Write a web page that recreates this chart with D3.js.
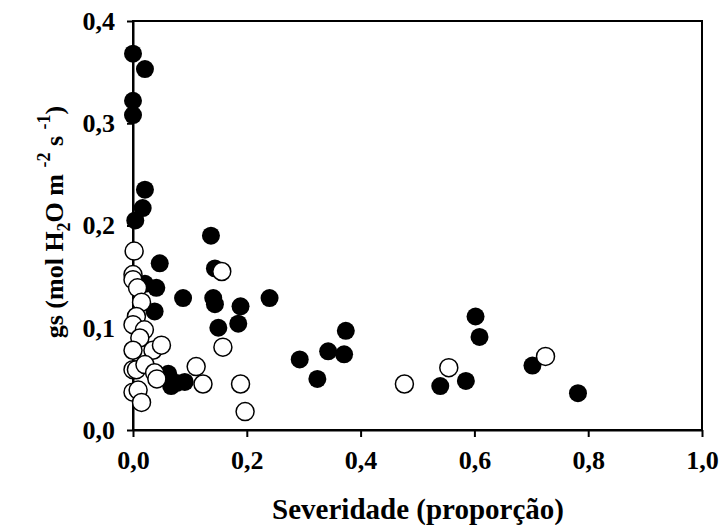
<!DOCTYPE html>
<html>
<head>
<meta charset="utf-8">
<script src="https://cdn.jsdelivr.net/npm/d3@7"></script>
<style>
  body { margin: 0; background: #fff; }
  text { font-family: "Liberation Serif", "Times New Roman", serif; font-weight: bold; fill: #000; }
</style>
</head>
<body>
<svg id="chart" width="719" height="525"></svg>
<script>
// filled circles
var severityFilled = [0.000, 0.021, 0.000, 0.000, 0.021, 0.017, 0.004,
  0.137, 0.047, 0.144, 0.021, 0.041, 0.088, 0.141, 0.144, 0.240, 0.189, 0.038, 0.185, 0.150,
  0.062, 0.067, 0.091, 0.077,
  0.293, 0.324, 0.343, 0.374, 0.371, 0.540, 0.585, 0.602, 0.609, 0.702, 0.782];
var gsFilled = [0.368, 0.353, 0.322, 0.308, 0.235, 0.217, 0.205,
  0.190, 0.163, 0.158, 0.143, 0.139, 0.129, 0.129, 0.123, 0.129, 0.121, 0.116, 0.104, 0.100,
  0.055, 0.043, 0.047, 0.046,
  0.069, 0.050, 0.077, 0.097, 0.074, 0.043, 0.048, 0.111, 0.091, 0.063, 0.036];

// open circles
var severityOpen = [0.002, 0.000, 0.000, 0.008, 0.015, 0.006, 0.000, 0.020, 0.012, 0.000,
  0.035, 0.050, 0.000, 0.006, 0.021, 0.038, 0.042, 0.000, 0.009, 0.015,
  0.156, 0.158, 0.111, 0.123, 0.189, 0.197, 0.477, 0.555, 0.725];
var gsOpen = [0.175, 0.152, 0.147, 0.139, 0.125, 0.111, 0.103, 0.098, 0.090, 0.078,
  0.078, 0.083, 0.059, 0.059, 0.064, 0.056, 0.050, 0.037, 0.039, 0.027,
  0.155, 0.081, 0.062, 0.045, 0.045, 0.018, 0.045, 0.061, 0.072];

var xTicks = [0, 0.2, 0.4, 0.6, 0.8, 1.0];
var yTicks = [0, 0.1, 0.2, 0.3, 0.4];

var svg = d3.select("#chart");
var plotL = 133, plotR = 702, plotT = 21, plotB = 430;

var x = d3.scaleLinear().domain([0, 1]).range([plotL, plotR]);
var y = d3.scaleLinear().domain([0, 0.4]).range([plotB, plotT]);
var fmt = d => d3.format(".1f")(d).replace(".", ",");

// frame
svg.append("rect")
  .attr("x", plotL).attr("y", plotT)
  .attr("width", plotR - plotL).attr("height", plotB - plotT)
  .attr("fill", "none").attr("stroke", "#000").attr("stroke-width", 2);

var xAxis = svg.append("g")
  .attr("transform", "translate(0," + plotB + ")")
  .call(d3.axisBottom(x).tickValues(xTicks).tickFormat(fmt).tickSize(7).tickSizeOuter(0).tickPadding(14));
var yAxis = svg.append("g")
  .attr("transform", "translate(" + plotL + ",0)")
  .call(d3.axisLeft(y).tickValues(yTicks).tickFormat(fmt).tickSize(6).tickSizeOuter(0).tickPadding(12));

[xAxis, yAxis].forEach(function(g) {
  g.select(".domain").attr("stroke-width", 2);
  g.selectAll(".tick line").attr("stroke-width", 2);
  g.selectAll(".tick text")
    .style("font-family", "'Liberation Serif', serif")
    .style("font-weight", "bold")
    .style("font-size", "26px");
});

// points: filled first, open on top
var filled = severityFilled.map((s, i) => ({ s: s, g: gsFilled[i] }));
var open = severityOpen.map((s, i) => ({ s: s, g: gsOpen[i] }));

svg.append("g").selectAll("circle")
  .data(filled)
  .enter().append("circle")
  .attr("cx", d => x(d.s))
  .attr("cy", d => y(d.g))
  .attr("r", 9)
  .attr("fill", "#000");

svg.append("g").selectAll("circle")
  .data(open)
  .enter().append("circle")
  .attr("cx", d => x(d.s))
  .attr("cy", d => y(d.g))
  .attr("r", 9)
  .attr("fill", "#fff")
  .attr("stroke", "#000")
  .attr("stroke-width", 1.5);

// axis titles
svg.append("text")
  .attr("x", 418)
  .attr("y", 519)
  .attr("text-anchor", "middle")
  .style("font-size", "29px")
  .text("Severidade (proporção)");

var yt = svg.append("text")
  .attr("transform", "translate(63,222) rotate(-90)")
  .attr("text-anchor", "middle")
  .style("font-size", "26px");
yt.append("tspan").text("gs (mol H");
yt.append("tspan").attr("dy", 7).style("font-size", "18px").text("2");
yt.append("tspan").attr("dy", -7).text("O m ");
yt.append("tspan").attr("dy", -13).style("font-size", "18px").text("-2");
yt.append("tspan").attr("dy", 13).text(" s ");
yt.append("tspan").attr("dy", -13).style("font-size", "18px").text("-1");
yt.append("tspan").attr("dy", 13).text(")");
</script>
</body>
</html>
